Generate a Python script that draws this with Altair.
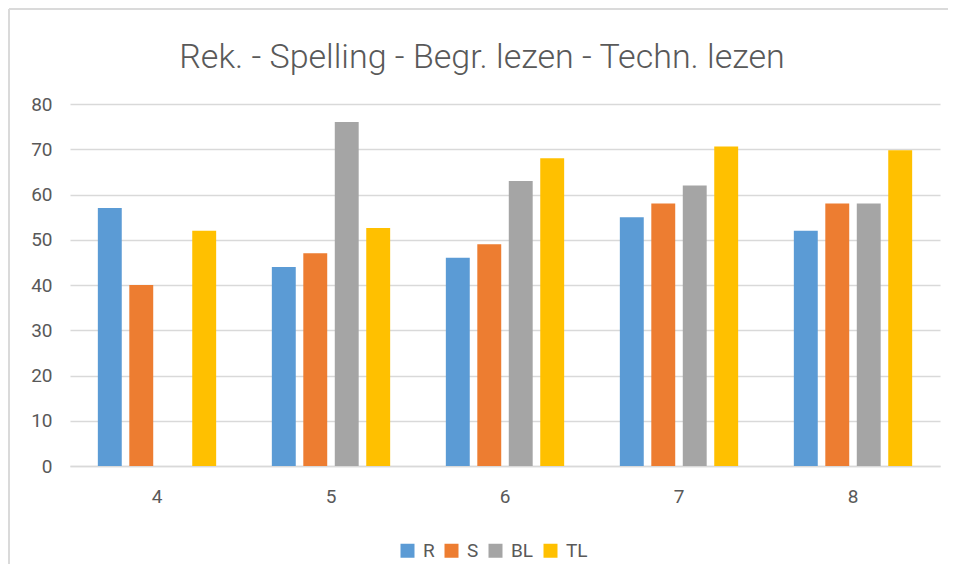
import altair as alt
import pandas as pd

categories = ["4", "5", "6", "7", "8"]
series = ["R", "S", "BL", "TL"]
R = [57, 44, 46, 55, 52]
S = [40, 47, 49, 58, 58]
BL = [None, 76, 63, 62, 58]
TL = [52, 52.6, 68, 70.6, 69.8]
colors = ["#5B9BD5", "#ED7D31", "#A5A5A5", "#FFC000"]

rows = []
for name, vals in zip(series, [R, S, BL, TL]):
    for c, v in zip(categories, vals):
        if v is not None:
            rows.append({"cat": c, "serie": name, "value": v})
df = pd.DataFrame(rows)

W, H = 870, 362
font = "Roboto, sans-serif"
txt = "#595959"

bars = alt.Chart(df).mark_bar().encode(
    x=alt.X("cat:N", sort=categories, title=None,
            scale=alt.Scale(paddingInner=0.32, paddingOuter=0.16),
            axis=alt.Axis(labelAngle=0, labelFontSize=19, labelColor=txt,
                          labelFont=font, labelPadding=21, ticks=False,
                          domainColor="#D9D9D9", domainWidth=1.3, grid=False)),
    xOffset=alt.XOffset("serie:N", sort=series,
                        scale=alt.Scale(paddingInner=0.24, paddingOuter=0)),
    y=alt.Y("value:Q", title=None,
            scale=alt.Scale(domain=[0, 80], nice=False),
            axis=alt.Axis(values=list(range(0, 81, 10)), labelFontSize=19,
                          labelColor=txt, labelFont=font, labelPadding=18,
                          ticks=False, domain=False, gridColor="#D9D9D9",
                          gridWidth=1.3)),
    color=alt.Color("serie:N", sort=series,
                    scale=alt.Scale(domain=series, range=colors),
                    legend=alt.Legend(title=None, orient="none", direction="horizontal",
                                      legendX=328, legendY=437, symbolType="square",
                                      symbolSize=196, symbolStrokeWidth=0,
                                      labelFontSize=19, labelColor=txt,
                                      labelFont=font, columnPadding=7,
                                      labelOffset=6)),
)

top_border = alt.Chart(df).mark_rule(color="#DADADA", strokeWidth=2).encode(
    x=alt.value(-61), x2=alt.value(W + 8), y=alt.value(-95), y2=alt.value(-95)
)
left_border = alt.Chart(df).mark_rule(color="#DADADA", strokeWidth=2).encode(
    x=alt.value(-61), x2=alt.value(-61), y=alt.value(-95), y2=alt.value(H + 98)
)

chart = alt.layer(top_border, left_border, bars).properties(
    width=W, height=H,
    autosize=alt.AutoSizeParams(type="none"),
    padding={"left": 62, "top": 96, "right": 8, "bottom": 98},
    title=alt.TitleParams("Rek. - Spelling - Begr. lezen - Techn. lezen",
                          fontSize=34, font=font, fontWeight=300,
                          color=txt, anchor="middle", dx=-23, offset=-67),
).configure_view(stroke=None)

chart.save("out.html", embed_options={"renderer": "svg", "actions": False})
